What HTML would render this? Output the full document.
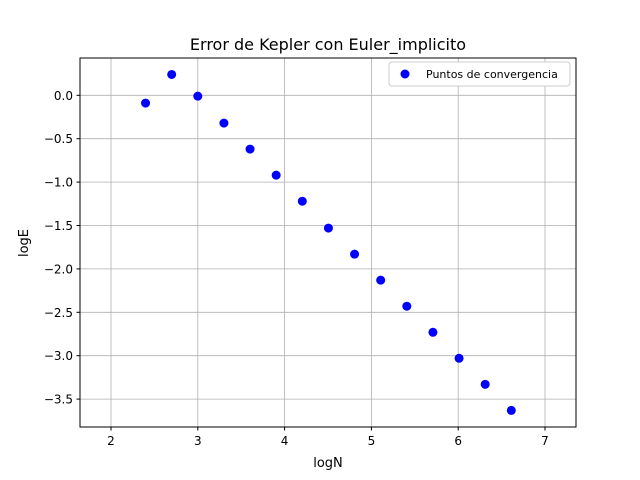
<!DOCTYPE html>
<html><head><meta charset="utf-8"><style>body{margin:0;background:#fff}svg{display:block;font-family:"DejaVu Sans","Liberation Sans",sans-serif}</style></head>
<body>
<svg id="chart" width="640" height="480">
<rect width="640" height="480" fill="#fff"/>
<text x="328" y="50" text-anchor="middle" font-size="16">Error de Kepler con Euler_implicito</text>
<g id="grid"></g><g id="ticks"></g><g id="pts"></g>
<rect x="80" y="58" width="496" height="369" fill="none" stroke="#000" stroke-width="1"/>
<text x="328" y="467" text-anchor="middle" font-size="13">logN</text>
<text x="28" y="243" text-anchor="middle" font-size="13" transform="rotate(-90 28 243)">logE</text>
<g>
<rect x="389" y="62" width="181" height="24" rx="3" fill="#fff" stroke="#ccc"/>
<circle cx="405" cy="74" r="4.5" fill="#0000ff"/>
<text x="426" y="78" font-size="11">Puntos de convergencia</text>
</g>
</svg>
<script>
const xs=[2.398,2.699,3.0,3.301,3.602,3.903,4.204,4.505,4.806,5.107,5.408,5.709,6.010,6.311,6.612];
const ys=[-0.09,0.24,-0.01,-0.32,-0.62,-0.92,-1.22,-1.53,-1.83,-2.13,-2.43,-2.73,-3.03,-3.33,-3.63];
const xTicks=[2,3,4,5,6,7];
const yTicks=[0,-0.5,-1,-1.5,-2,-2.5,-3,-3.5];
const yLabels=["0.0","−0.5","−1.0","−1.5","−2.0","−2.5","−3.0","−3.5"];
const X=v=>111+(v-2)*86.8, Y=v=>95.3-v*86.8;
const ns="http://www.w3.org/2000/svg";
function mk(t,a,p){const e=document.createElementNS(ns,t);for(const k in a)e.setAttribute(k,a[k]);p.appendChild(e);return e;}
const g=document.getElementById('grid'),tk=document.getElementById('ticks'),pg=document.getElementById('pts');
xTicks.forEach(v=>{const x=X(v);
const l=mk('line',{x1:x,x2:x,y1:58,y2:427,stroke:'#b0b0b0','stroke-width':0.8},g);


mk('line',{x1:x,x2:x,y1:427,y2:430.5,stroke:'#000'},tk);
const t=mk('text',{x:x,y:445,'text-anchor':'middle','font-size':12},tk);t.textContent=v;

});
yTicks.forEach((v,i)=>{const y=Y(v);
const l=mk('line',{x1:80,x2:576,y1:y,y2:y,stroke:'#b0b0b0','stroke-width':0.8},g);


mk('line',{x1:76.5,x2:80,y1:y,y2:y,stroke:'#000'},tk);
const t=mk('text',{x:73,y:y+4.5,'text-anchor':'end','font-size':12},tk);t.textContent=yLabels[i];

});
xs.forEach((v,i)=>{const c=mk('circle',{cx:X(v),cy:Y(ys[i]),r:4.5,fill:'#0000ff'},pg);

});
</script>
</body></html>
